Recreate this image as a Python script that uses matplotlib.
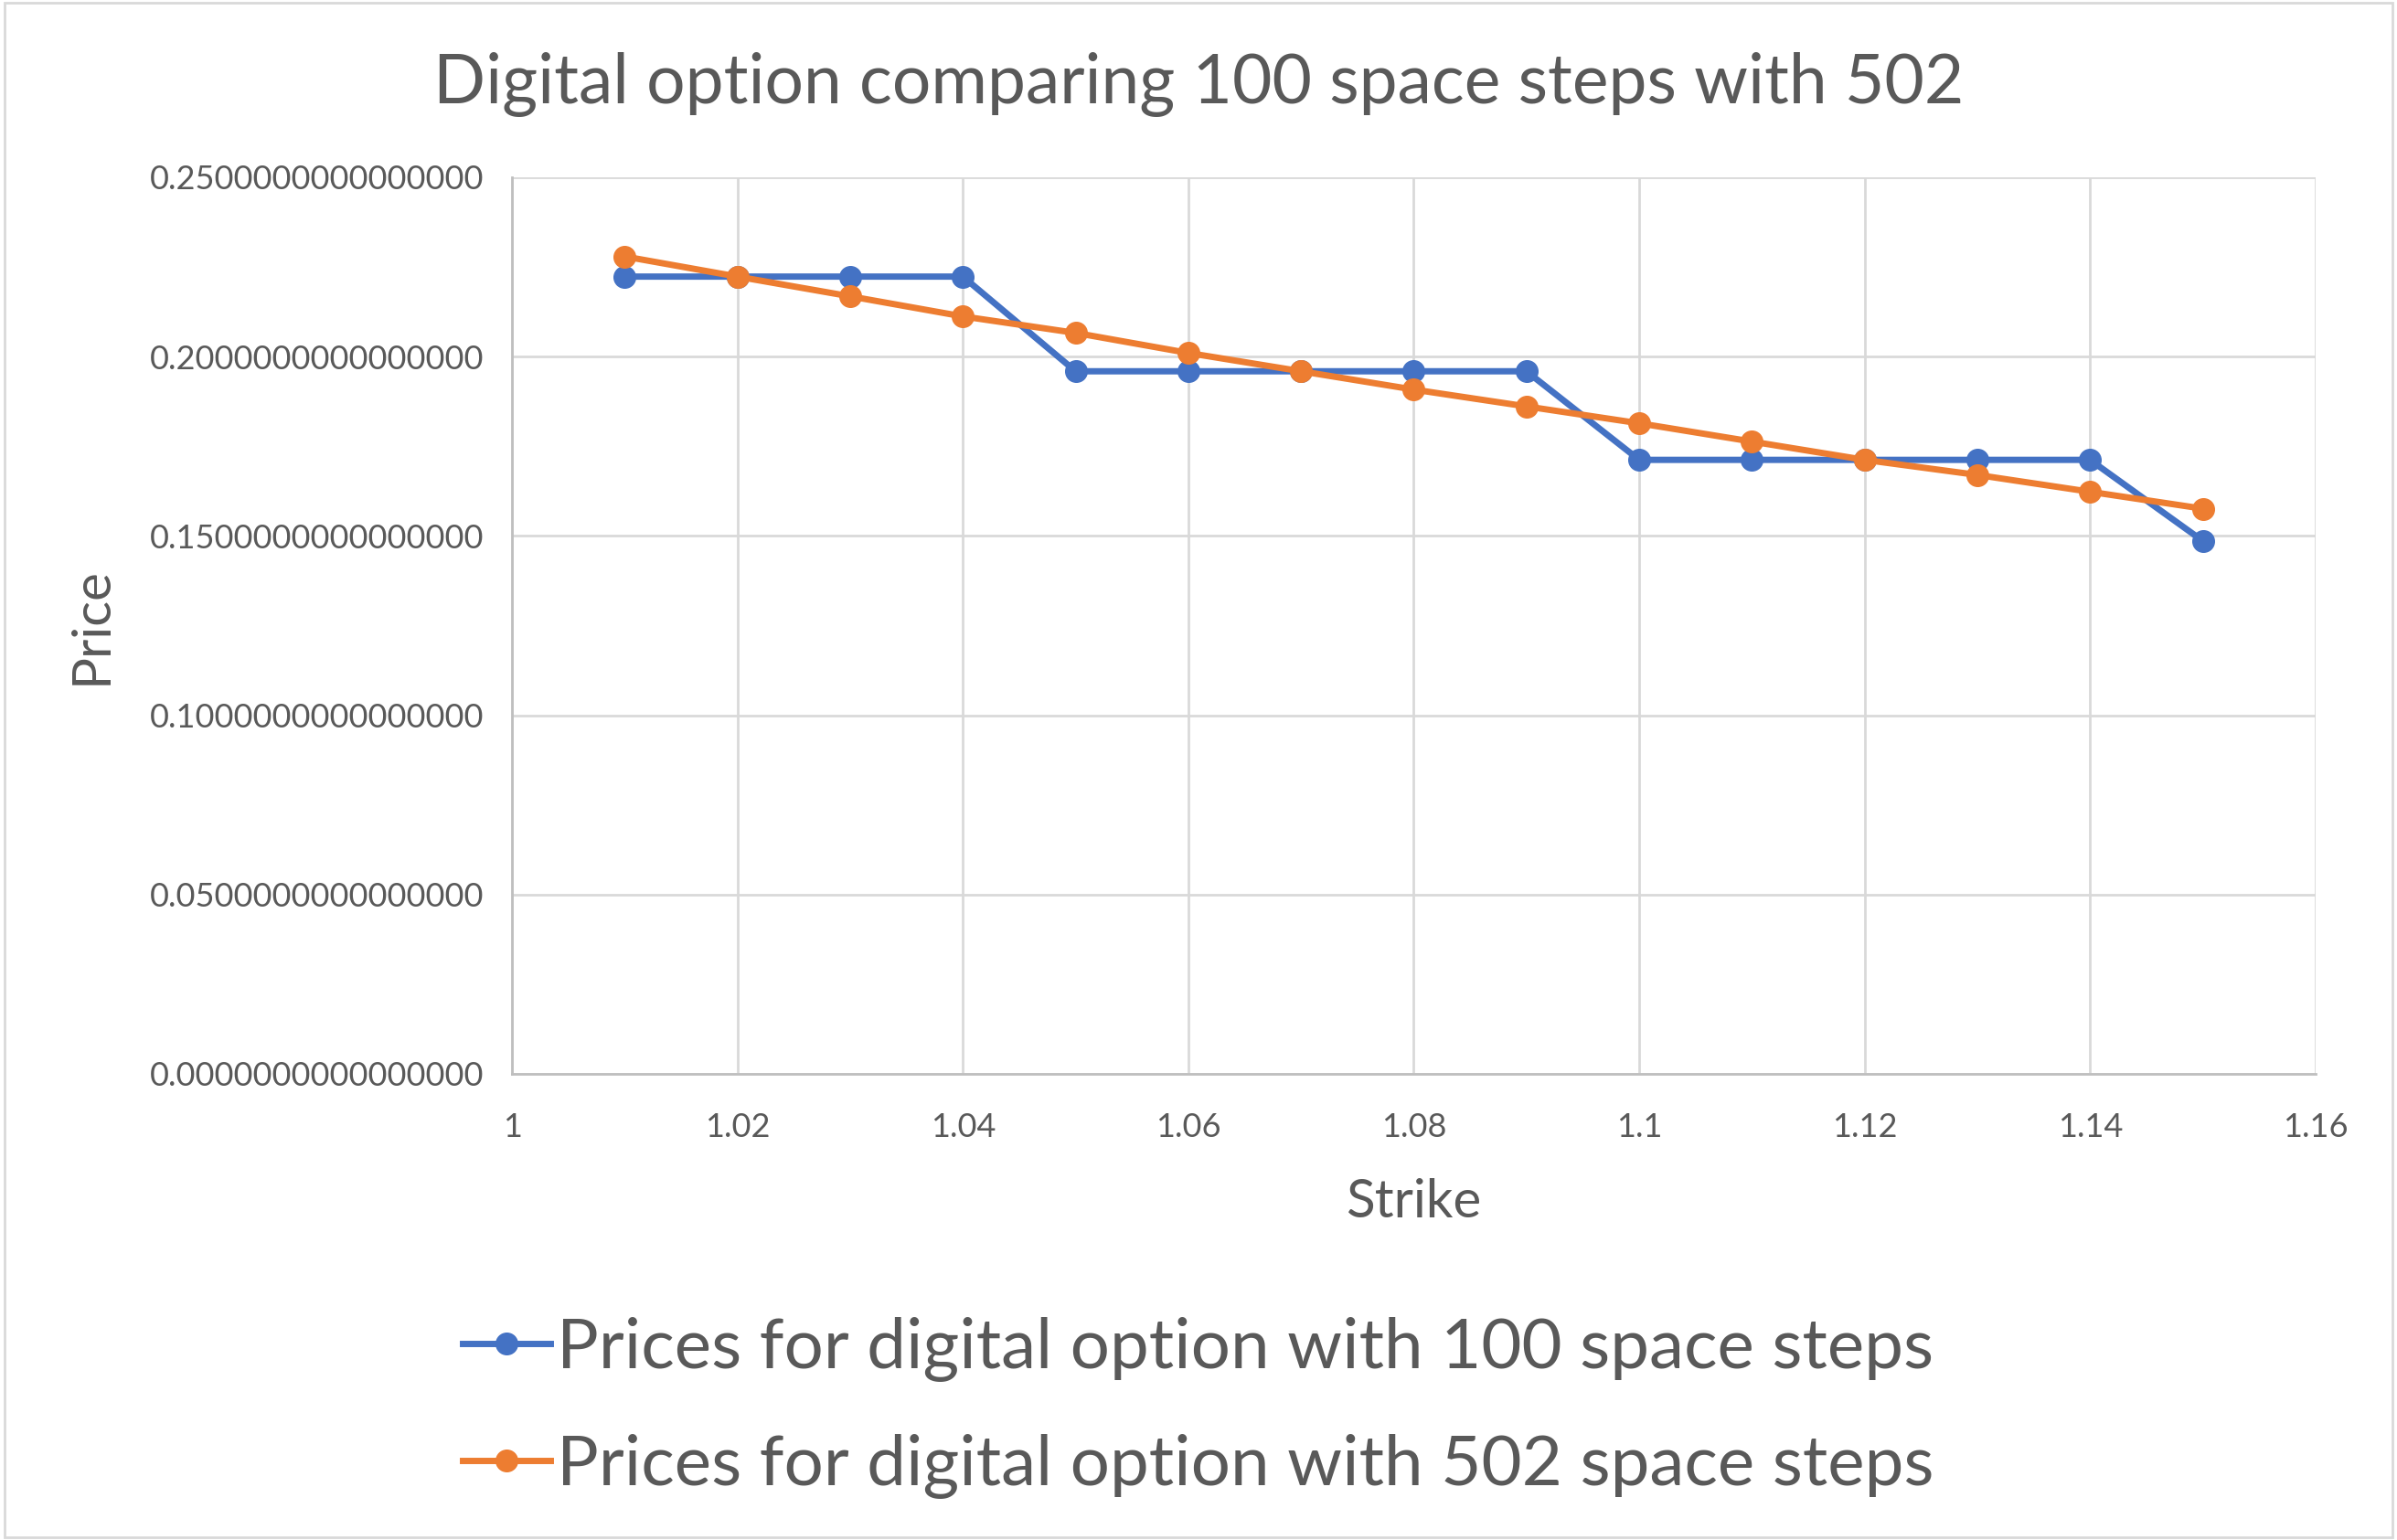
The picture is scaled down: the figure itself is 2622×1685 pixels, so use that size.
import matplotlib
matplotlib.use("Agg")
import matplotlib.pyplot as plt
from matplotlib.ticker import FuncFormatter, MultipleLocator
from matplotlib.patches import Rectangle

strikes = [1.01, 1.02, 1.03, 1.04, 1.05, 1.06, 1.07, 1.08, 1.09, 1.10, 1.11, 1.12, 1.13, 1.14, 1.15]
prices_100 = [0.2223, 0.2223, 0.2223, 0.2223, 0.1959, 0.1959, 0.1959, 0.1959, 0.1959,
              0.1712, 0.1712, 0.1712, 0.1712, 0.1712, 0.1486]
prices_502 = [0.2279, 0.2223, 0.2168, 0.2112, 0.2066, 0.2010, 0.1959, 0.1908, 0.1861,
              0.1814, 0.1763, 0.1712, 0.1670, 0.1623, 0.1576]

title = "Digital option comparing 100 space steps with 502"
labels = ["Prices for digital option with 100 space steps",
          "Prices for digital option with 502 space steps"]

plt.rcParams['font.family'] = ['Lato', 'DejaVu Sans']
text_col = "#595959"

fig = plt.figure(figsize=(26.22, 16.85), dpi=100)
ax = fig.add_axes([0.2136, 0.3027, 0.7524, 0.5822])

ax.plot(strikes, prices_100, color="#4472C4", lw=5, marker="o", ms=17, label=labels[0])
ax.plot(strikes, prices_502, color="#ED7D31", lw=5, marker="o", ms=17, label=labels[1])

ax.set_xlim(1.0, 1.16)
ax.set_ylim(0, 0.25)
ax.xaxis.set_major_locator(MultipleLocator(0.02))
ax.yaxis.set_major_locator(MultipleLocator(0.05))
ax.xaxis.set_major_formatter(FuncFormatter(lambda v, p: "%g" % round(v, 2)))
ax.yaxis.set_major_formatter(FuncFormatter(lambda v, p: "%.16f" % round(v, 2)))
ax.grid(True, color="#D9D9D9", lw=2)
ax.set_axisbelow(True)
for s in ["top", "right"]:
    ax.spines[s].set_visible(False)
for s in ["left", "bottom"]:
    ax.spines[s].set_color("#BFBFBF")
    ax.spines[s].set_linewidth(2)
ax.tick_params(length=0, labelsize=26, colors=text_col)
ax.tick_params(axis="x", pad=30)
ax.tick_params(axis="y", pad=22)

fig.text(0.5, 0.945, title, fontsize=54, color=text_col, ha="center", va="center")
ax.set_xlabel("Strike", fontsize=42, color=text_col, labelpad=28)
fig.text(0.038, 0.594, "Price", fontsize=42, color=text_col, rotation=90,
         ha="center", va="center")

leg = fig.legend(loc="lower center", bbox_to_anchor=(0.5, 0.004), ncol=1, frameon=False,
                 fontsize=55, labelcolor=text_col, handlelength=1.25, handletextpad=0.1,
                 labelspacing=0.75, borderpad=0)

fig.patches.append(Rectangle((0.002, 0.002), 0.996, 0.996, transform=fig.transFigure,
                             fill=False, edgecolor="#D9D9D9", lw=2))

fig.savefig("out.png", dpi=100)
